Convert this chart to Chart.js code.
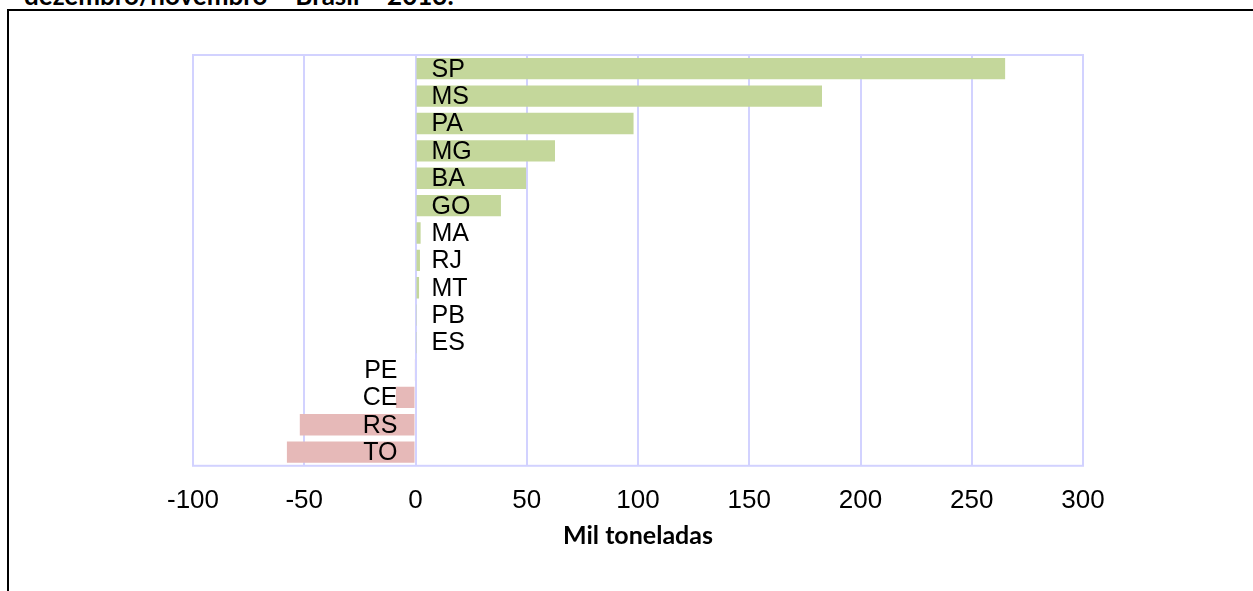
<!DOCTYPE html>
<html>
<head>
<meta charset="utf-8">
<script src="https://cdn.jsdelivr.net/npm/chart.js@4.4.0/dist/chart.umd.min.js"></script>
<style>
  html, body { margin: 0; padding: 0; background: #fff; }
  body { width: 1253px; height: 591px; position: relative; overflow: hidden; }
  .frame { position: absolute; left: 7px; top: 9px; right: -5px; bottom: -5px;
           border-left: 2px solid #000; border-top: 2px solid #000; }
  .cut-title { position: absolute; left: 24px; top: -18px; font: bold 26px/26px Lato, sans-serif;
               color: #000; white-space: nowrap; }
  #wrap { position: absolute; left: 0; top: 0; width: 1253px; height: 591px; }
</style>
</head>
<body>
<div class="cut-title">dezembro/novembro – Brasil – 2013.</div>
<div class="frame"></div>
<div id="wrap"><canvas id="chart" width="1253" height="591"></canvas></div>
<script>
// estados e variação (mil toneladas)
const estados = ['SP', 'MS', 'PA', 'MG', 'BA', 'GO', 'MA', 'RJ', 'MT', 'PB', 'ES', 'PE', 'CE', 'RS', 'TO'];
const variacao = [265, 182.7, 98, 62.7, 49.7, 38.4, 2.3, 2.0, 1.6, 0.3, 0.3, -0.5, -8.8, -52, -57.8];
const eixoX = { min: -100, max: 300, step: 50 };
const tituloEixo = 'Mil toneladas';

const verde = '#c4d79b';
const rosa = '#e6b9b8';
const lilas = '#d2d2ff';

// desenha siglas junto ao zero e a moldura da área do gráfico
const rotulos = {
  id: 'rotulos',
  afterDatasetsDraw(chart) {
    const { ctx, chartArea, scales } = chart;
    const x0 = scales.x.getPixelForValue(0);
    ctx.save();
    ctx.strokeStyle = lilas;
    ctx.lineWidth = 2;
    ctx.strokeRect(chartArea.left, chartArea.top, chartArea.right - chartArea.left, chartArea.bottom - chartArea.top);
    ctx.font = '25px "Liberation Sans", Arial, sans-serif';
    ctx.fillStyle = '#000';
    ctx.textBaseline = 'middle';
    estados.forEach((uf, i) => {
      const y = scales.y.getPixelForValue(i) + 1;
      if (variacao[i] >= 0) {
        ctx.textAlign = 'left';
        ctx.fillText(uf, x0 + 16, y);
      } else {
        ctx.textAlign = 'right';
        ctx.fillText(uf, x0 - 18, y);
      }
    });
    ctx.restore();
  }
};

new Chart(document.getElementById('chart'), {
  type: 'bar',
  data: {
    labels: estados,
    datasets: [{
      data: variacao,
      backgroundColor: variacao.map(v => v >= 0 ? verde : rosa),
      barPercentage: 0.78,
      categoryPercentage: 1
    }]
  },
  options: {
    indexAxis: 'y',
    responsive: false,
    animation: false,
    devicePixelRatio: 1,
    layout: { padding: { left: 193, right: 170, top: 55, bottom: 40 } },
    plugins: { legend: { display: false }, tooltip: { enabled: false } },
    scales: {
      y: { display: false },
      x: {
        min: eixoX.min,
        max: eixoX.max,
        ticks: {
          stepSize: eixoX.step,
          padding: 19,
          color: '#000',
          font: { family: '"Liberation Sans", Arial, sans-serif', size: 26 }
        },
        grid: { color: lilas, lineWidth: 2, drawTicks: false },
        border: { display: false },
        title: {
          display: true,
          text: tituloEixo,
          color: '#000',
          padding: { top: -14, bottom: 0 },
          font: { family: 'Lato, sans-serif', size: 25, weight: 'bold' }
        }
      }
    }
  },
  plugins: [rotulos]
});
</script>
</body>
</html>
